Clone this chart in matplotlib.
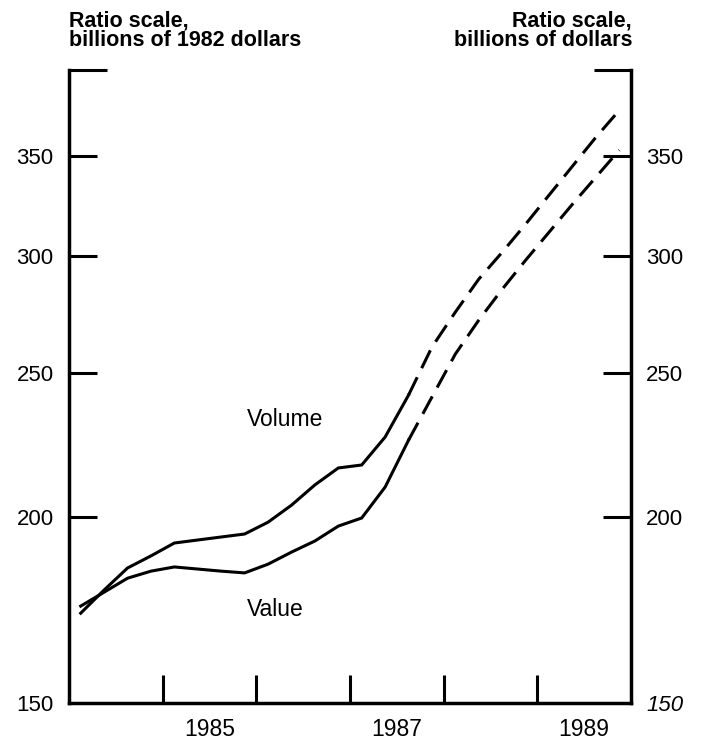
import matplotlib
matplotlib.use("Agg")
import matplotlib.pyplot as plt
from matplotlib.ticker import FixedLocator, NullFormatter, FixedFormatter

plt.rcParams['font.family'] = ['Liberation Sans', 'DejaVu Sans']

# quarterly, 1984:Q1 - 1989:Q4 (from 1987:Q3 on projected)
quarters = [1984 + i / 4 + 0.125 for i in range(24)]
volume = [172.4, 178.7, 184.9, 188.4, 192.2, 193.1, 194.0, 194.9,
          198.5, 203.8, 210.3, 215.9, 216.9, 226.5, 241.7, 260.4,
          274.9, 289.3, 301.6, 315.0, 329.5, 344.6, 360.4, 375.8]
value = [174.3, 178.1, 182.0, 184.0, 185.2, 184.6, 184.0, 183.5,
         186.0, 189.5, 192.8, 197.3, 199.8, 209.6, 225.4, 241.0,
         257.6, 271.5, 284.8, 297.9, 311.1, 324.9, 338.8, 353.3]
last_actual = 14

y_ticks = [150, 200, 250, 300, 350]
year_ticks = [1985, 1986, 1987, 1988, 1989]
year_labels = ['1985', '1987', '1989']
year_label_pos = [1985.5, 1987.5, 1989.5]

fig = plt.figure(figsize=(7.02, 7.42), dpi=100)
ax = fig.add_axes([69 / 702, 1 - 703 / 742, 562 / 702, 633 / 742])

lw = 2.2
dash = (0, (6.5, 3.3))
for series in (volume, value):
    ax.plot(quarters[:last_actual + 1], series[:last_actual + 1],
            color='black', lw=lw, solid_joinstyle='miter')
    ax.plot(quarters[last_actual:], series[last_actual:],
            color='black', lw=lw, linestyle=dash)

ax.set_yscale('log')
ax.set_ylim(150, 400)
ax.set_xlim(1984, 1990)

ax.yaxis.set_major_locator(FixedLocator(y_ticks))
ax.yaxis.set_major_formatter(FixedFormatter([str(t) for t in y_ticks]))
ax.yaxis.set_minor_locator(FixedLocator([400]))
ax.yaxis.set_minor_formatter(NullFormatter())
ax.tick_params(axis='y', which='major', direction='in', length=20, width=2.2,
               left=True, right=True, labelleft=True, labelright=True,
               labelsize=16, pad=11)
ax.tick_params(axis='y', which='minor', direction='in', length=27, width=2.2,
               left=True, right=True)

ax.xaxis.set_major_locator(FixedLocator(year_ticks))
ax.xaxis.set_major_formatter(NullFormatter())
ax.xaxis.set_minor_locator(FixedLocator(year_label_pos))
ax.xaxis.set_minor_formatter(FixedFormatter(year_labels))
ax.tick_params(axis='x', which='major', direction='in', length=20, width=2.2)
ax.tick_params(axis='x', which='minor', length=0, labelsize=16.5, pad=11)

# the 150 tick sits on the bottom spine; its right-hand label is italic
first = ax.yaxis.get_major_ticks()[0]
first.tick1line.set_visible(False)
first.tick2line.set_visible(False)
first.label2.set_style('italic')

ax.spines['top'].set_visible(False)
for side in ('left', 'right', 'bottom'):
    ax.spines[side].set_linewidth(2.5)

ax.text(1985.9, 232.9, 'Volume', fontsize=16.5, ha='left', va='center')
ax.text(1985.9, 173.3, 'Value', fontsize=16.5, ha='left', va='center')

fig.text(69 / 702, 1 - 10 / 742, 'Ratio scale,\nbillions of 1982 dollars',
         fontsize=15.5, fontweight='bold', ha='left', va='top', linespacing=0.95)
fig.text(632 / 702, 1 - 10 / 742, 'Ratio scale,\nbillions of dollars',
         fontsize=15.5, fontweight='bold', ha='right', va='top', linespacing=0.95,
         multialignment='right')

fig.savefig('out.png', dpi=100)
